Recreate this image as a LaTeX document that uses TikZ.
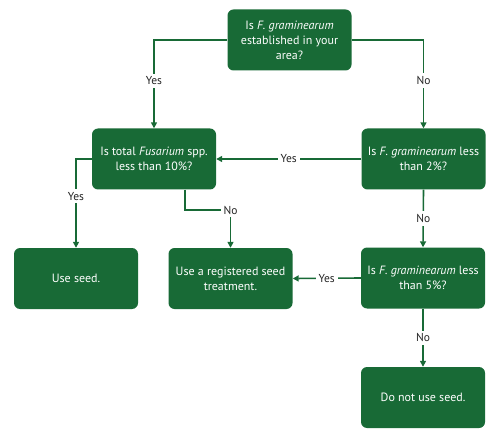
\documentclass[tikz,border=0pt]{standalone}
\usepackage{fontspec}
\setmainfont{PT Sans}
\usetikzlibrary{arrows.meta,positioning,calc}
\definecolor{fgreen}{RGB}{24,106,54}
\definecolor{lbltext}{RGB}{35,35,35}

\begin{document}
\begin{tikzpicture}[x=1pt, y=-1pt,
    box/.style={rounded corners=6pt, fill=fgreen, text=white,
                minimum width=124pt, minimum height=61pt, align=center,
                font=\fontsize{12}{15}\selectfont, inner sep=2pt},
    arr/.style={-{Triangle[length=6pt,width=6pt]}, line width=1.6pt, fgreen},
    lbl/.style={fill=white, text=lbltext, font=\fontsize{11.5}{13}\selectfont, inner sep=3pt}]

    \useasboundingbox (0,0) rectangle (500,438);

    % questions
    \node[box] (qest) at (289.5,40) {Is \textit{F. graminearum}\\established in your\\area?};
    \node[box] (qfus) at (154,159) {Is total \textit{Fusarium} spp.\\less than 10\%?};
    \node[box] (qtwo) at (423.5,159) {Is \textit{F. graminearum} less\\than 2\%?};
    \node[box] (qfive) at (423,278) {Is \textit{F. graminearum} less\\than 5\%?};

    % outcomes
    \node[box] (use) at (76,278.5) {Use seed.};
    \node[box] (treat) at (230.5,278.5) {Use a registered seed\\treatment.};
    \node[box] (nouse) at (423,397.5) {Do not use seed.};

    \coordinate (nobend) at (230.5,210);

    % connectors
    \draw[arr] (qest.west) -| node[lbl, pos=0.73] {Yes} (qfus.north);
    \draw[arr] (qest.east) -| node[lbl, pos=0.73] {No} (qtwo.north);
    \draw[arr] (qfus.west) -| node[lbl, pos=0.71] {Yes} (use.north);
    \draw[arr] ([xshift=31pt]qfus.south) |- (nobend) -- (treat.north);
    \node[lbl] (nolbl) at (nobend) {No};
    \draw[arr] (qtwo.west) -- node[lbl] {Yes} (qfus.east);
    \draw[arr] (qtwo.south) -- node[lbl] {No} (qfive.north);
    \draw[arr] (qfive.west) -- node[lbl] {Yes} (treat.east);
    \draw[arr] (qfive.south) -- node[lbl] {No} (nouse.north);
\end{tikzpicture}
\end{document}
